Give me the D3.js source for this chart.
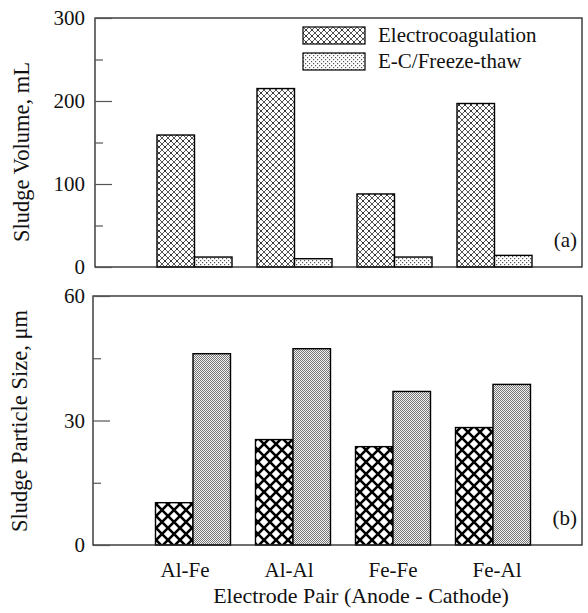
<!DOCTYPE html>
<html>
<head>
<meta charset="utf-8">
<script src="https://cdn.jsdelivr.net/npm/d3@7"></script>
<style>
  body { margin: 0; background: #fff; }
  text { font-family: "Liberation Serif", "Times New Roman", serif; fill: #111; }
</style>
</head>
<body>
<div id="chart"></div>
<script>
// Data
var pairs = ["Al-Fe", "Al-Al", "Fe-Fe", "Fe-Al"];
var series = ["Electrocoagulation", "E-C/Freeze-thaw"];
var volumeEC = [159, 215, 88, 197];
var volumeFT = [12, 10, 12, 14];
var sizeEC = [10.2, 25.4, 23.7, 28.3];
var sizeFT = [46.1, 47.3, 37.0, 38.7];
var volumeTicks = [0, 100, 200, 300];
var volumeMinor = [50, 150, 250];
var sizeTicks = [0, 30, 60];
var sizeMinor = [15, 45];

var W = 588, H = 613;
var svg = d3.select("#chart").append("svg")
  .attr("width", W).attr("height", H);

var defs = svg.append("defs");

// fine crosshatch (panel a, legend)
var fine = defs.append("pattern").attr("id", "hatchFine")
  .attr("patternUnits", "userSpaceOnUse").attr("width", 6).attr("height", 6);
fine.append("rect").attr("width", 6).attr("height", 6).attr("fill", "#fff");
fine.append("path").attr("d", "M0,0L6,6M6,0L0,6")
  .attr("stroke", "#444").attr("stroke-width", 0.9);
fine.append("rect").attr("x", 2.4).attr("y", 2.4).attr("width", 1.2).attr("height", 1.2).attr("fill", "#000");

// bold crosshatch (panel b)
var bold = defs.append("pattern").attr("id", "hatchBold")
  .attr("patternUnits", "userSpaceOnUse").attr("width", 12).attr("height", 12);
bold.append("rect").attr("width", 12).attr("height", 12).attr("fill", "#fff");
bold.append("path").attr("d", "M-1,-1L13,13M13,-1L-1,13")
  .attr("stroke", "#000").attr("stroke-width", 2.6);

// sparse dots (panel a, legend)
var dotsLight = defs.append("pattern").attr("id", "dotsLight")
  .attr("patternUnits", "userSpaceOnUse").attr("width", 4).attr("height", 4);
dotsLight.append("rect").attr("width", 4).attr("height", 4).attr("fill", "#fff");
dotsLight.append("rect").attr("x", 0).attr("y", 0).attr("width", 1.2).attr("height", 1.2).attr("fill", "#555");
dotsLight.append("rect").attr("x", 2).attr("y", 2).attr("width", 1.2).attr("height", 1.2).attr("fill", "#555");

// dense dots (panel b)
var dotsDense = defs.append("pattern").attr("id", "dotsDense")
  .attr("patternUnits", "userSpaceOnUse").attr("width", 2).attr("height", 2);
dotsDense.append("rect").attr("width", 2).attr("height", 2).attr("fill", "#f2f2f2");
dotsDense.append("rect").attr("x", 0).attr("y", 0).attr("width", 1).attr("height", 1).attr("fill", "#777");
dotsDense.append("rect").attr("x", 1).attr("y", 1).attr("width", 1).attr("height", 1).attr("fill", "#777");

// shared x scale for bar groups
var x0 = d3.scaleBand().domain(pairs).range([144.5, 544.5])
  .paddingInner(0.25).paddingOuter(0.125);
var x1 = d3.scaleBand().domain(series).range([0, x0.bandwidth()]);

// label positions for the category names
var xLab = d3.scalePoint().domain(pairs).range([185, 497]);

function panel(opts) {
  var g = svg.append("g");
  var y = d3.scaleLinear().domain(opts.domain).range([opts.bottom, opts.top]);

  // bars
  opts.values.forEach(function(vals, si) {
    g.selectAll(".bar" + si)
      .data(vals)
      .enter().append("rect")
      .attr("x", function(d, i) { return x0(pairs[i]) + x1(series[si]) + opts.dx; })
      .attr("y", function(d) { return y(d); })
      .attr("width", x1.bandwidth())
      .attr("height", function(d) { return y(0) - y(d); })
      .attr("fill", "url(#" + opts.fills[si] + ")")
      .attr("stroke", "#000").attr("stroke-width", 1.4);
  });

  // frame
  g.append("rect")
    .attr("x", opts.left).attr("y", opts.top)
    .attr("width", opts.right - opts.left).attr("height", opts.bottom - opts.top)
    .attr("fill", "none").attr("stroke", "#222").attr("stroke-width", 1.3);

  // inward ticks
  var axis = d3.axisRight(y).tickValues(opts.ticks).tickSize(17).tickFormat("");
  var ax = g.append("g").attr("transform", "translate(" + opts.left + ",0)").call(axis);
  ax.select(".domain").remove();
  ax.selectAll("line").attr("stroke", "#555").attr("stroke-width", 1.2);
  var minor = d3.axisRight(y).tickValues(opts.minor).tickSize(8).tickFormat("");
  var mx = g.append("g").attr("transform", "translate(" + opts.left + ",0)").call(minor);
  mx.select(".domain").remove();
  mx.selectAll("line").attr("stroke", "#555").attr("stroke-width", 1.2);

  // tick labels
  g.selectAll(".tl")
    .data(opts.ticks)
    .enter().append("text")
    .attr("x", 85).attr("y", function(d) { return y(d); })
    .attr("dy", "0.35em")
    .attr("text-anchor", "end")
    .style("font-size", "21px")
    .text(function(d) { return d; });

  // y title
  g.append("text")
    .attr("transform", "translate(" + opts.titleX + "," + opts.titleY + ") rotate(-90)")
    .attr("text-anchor", "middle")
    .attr("dy", "0.35em")
    .style("font-size", "22.5px")
    .text(opts.title);

  // panel tag
  g.append("text")
    .attr("x", 577).attr("y", opts.bottom - 20)
    .attr("text-anchor", "end")
    .style("font-size", "21px")
    .text(opts.tag);

  return y;
}

panel({
  domain: [0, 300], top: 18, bottom: 267, left: 95, right: 582, dx: 0,
  values: [volumeEC, volumeFT], fills: ["hatchFine", "dotsLight"],
  ticks: volumeTicks, minor: volumeMinor,
  title: "Sludge Volume, mL", titleX: 21, titleY: 152, tag: "(a)"
});

panel({
  domain: [0, 60], top: 296, bottom: 545, left: 93, right: 582, dx: -1.5,
  values: [sizeEC, sizeFT], fills: ["hatchBold", "dotsDense"],
  ticks: sizeTicks, minor: sizeMinor,
  title: "Sludge Particle Size, \u03bcm", titleX: 19, titleY: 421, tag: "(b)"
});

// category labels
svg.selectAll(".cat")
  .data(pairs)
  .enter().append("text")
  .attr("x", function(d) { return xLab(d); })
  .attr("y", 577)
  .attr("text-anchor", "middle")
  .style("font-size", "21px")
  .text(function(d) { return d; });

// x title
svg.append("text")
  .attr("x", 361).attr("y", 603)
  .attr("text-anchor", "middle")
  .style("font-size", "22px")
  .text("Electrode Pair (Anode - Cathode)");

// legend
var legendFills = ["hatchFine", "dotsLight"];
var legend = svg.append("g").selectAll("g")
  .data(series)
  .enter().append("g")
  .attr("transform", function(d, i) { return "translate(303," + (27 + i * 26) + ")"; });
legend.append("rect")
  .attr("width", 62).attr("height", 17)
  .attr("fill", function(d, i) { return "url(#" + legendFills[i] + ")"; })
  .attr("stroke", "#000").attr("stroke-width", 1.2);
legend.append("text")
  .attr("x", 75).attr("y", 15)
  .style("font-size", "21px")
  .text(function(d) { return d; });
</script>
</body>
</html>
